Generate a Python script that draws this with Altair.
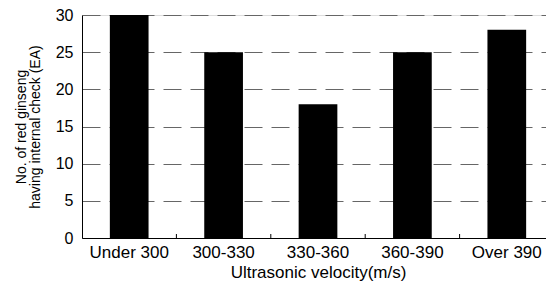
import altair as alt
import pandas as pd

categories = ["Under 300", "300-330", "330-360", "360-390", "Over 390"]
counts = [30, 25, 18, 25, 28]
y_ticks = [0, 5, 10, 15, 20, 25, 30]
boundaries = list(range(1, len(categories)))

df = pd.DataFrame({"category": categories, "count": counts})
bdf = pd.DataFrame({"b": boundaries})

FONT = "Liberation Sans"

bars = alt.Chart(df).mark_bar(color="black").encode(
    x=alt.X(
        "category:N",
        sort=categories,
        scale=alt.Scale(paddingInner=0.59, paddingOuter=0.295),
        axis=alt.Axis(
            title="Ultrasonic velocity(m/s)",
            labelAngle=0,
            ticks=False,
            labelPadding=6,
            titlePadding=4,
            labelFontSize=17,
            titleFontSize=17,
            titleFontWeight="normal",
            labelFont=FONT,
            titleFont=FONT,
            labelColor="black",
            titleColor="black",
            domainColor="black",
            grid=False,
        ),
    ),
    y=alt.Y(
        "count:Q",
        scale=alt.Scale(domain=[0, 30], nice=False),
        axis=alt.Axis(
            title=["No. of red ginseng", "having internal check (EA)"],
            values=y_ticks,
            ticks=False,
            labelPadding=9,
            titlePadding=13,
            labelFontSize=16,
            titleFontSize=14,
            titleLineHeight=14,
            titleFontWeight="normal",
            labelFont=FONT,
            titleFont=FONT,
            labelColor="black",
            titleColor="black",
            domainColor="black",
            grid=True,
            gridColor="#666666",
            gridDash=[18, 9],
            gridWidth=1,
        ),
    ),
)

inner_ticks = alt.Chart(bdf).mark_rule(color="black").encode(
    x=alt.X("b:Q", scale=alt.Scale(domain=[0, len(categories)], nice=False), axis=None),
    y=alt.value(223),
    y2=alt.value(219),
)

chart = alt.layer(bars, inner_ticks).resolve_scale(x="independent").properties(
    width=472,
    height=223,
    autosize=alt.AutoSizeParams(type="none"),
    padding={"left": 74, "top": 7, "right": -8, "bottom": 45},
).configure_view(stroke="#333333", strokeWidth=1).configure(background="white")

chart.save("out.html", embed_options={"renderer": "svg", "actions": False})
